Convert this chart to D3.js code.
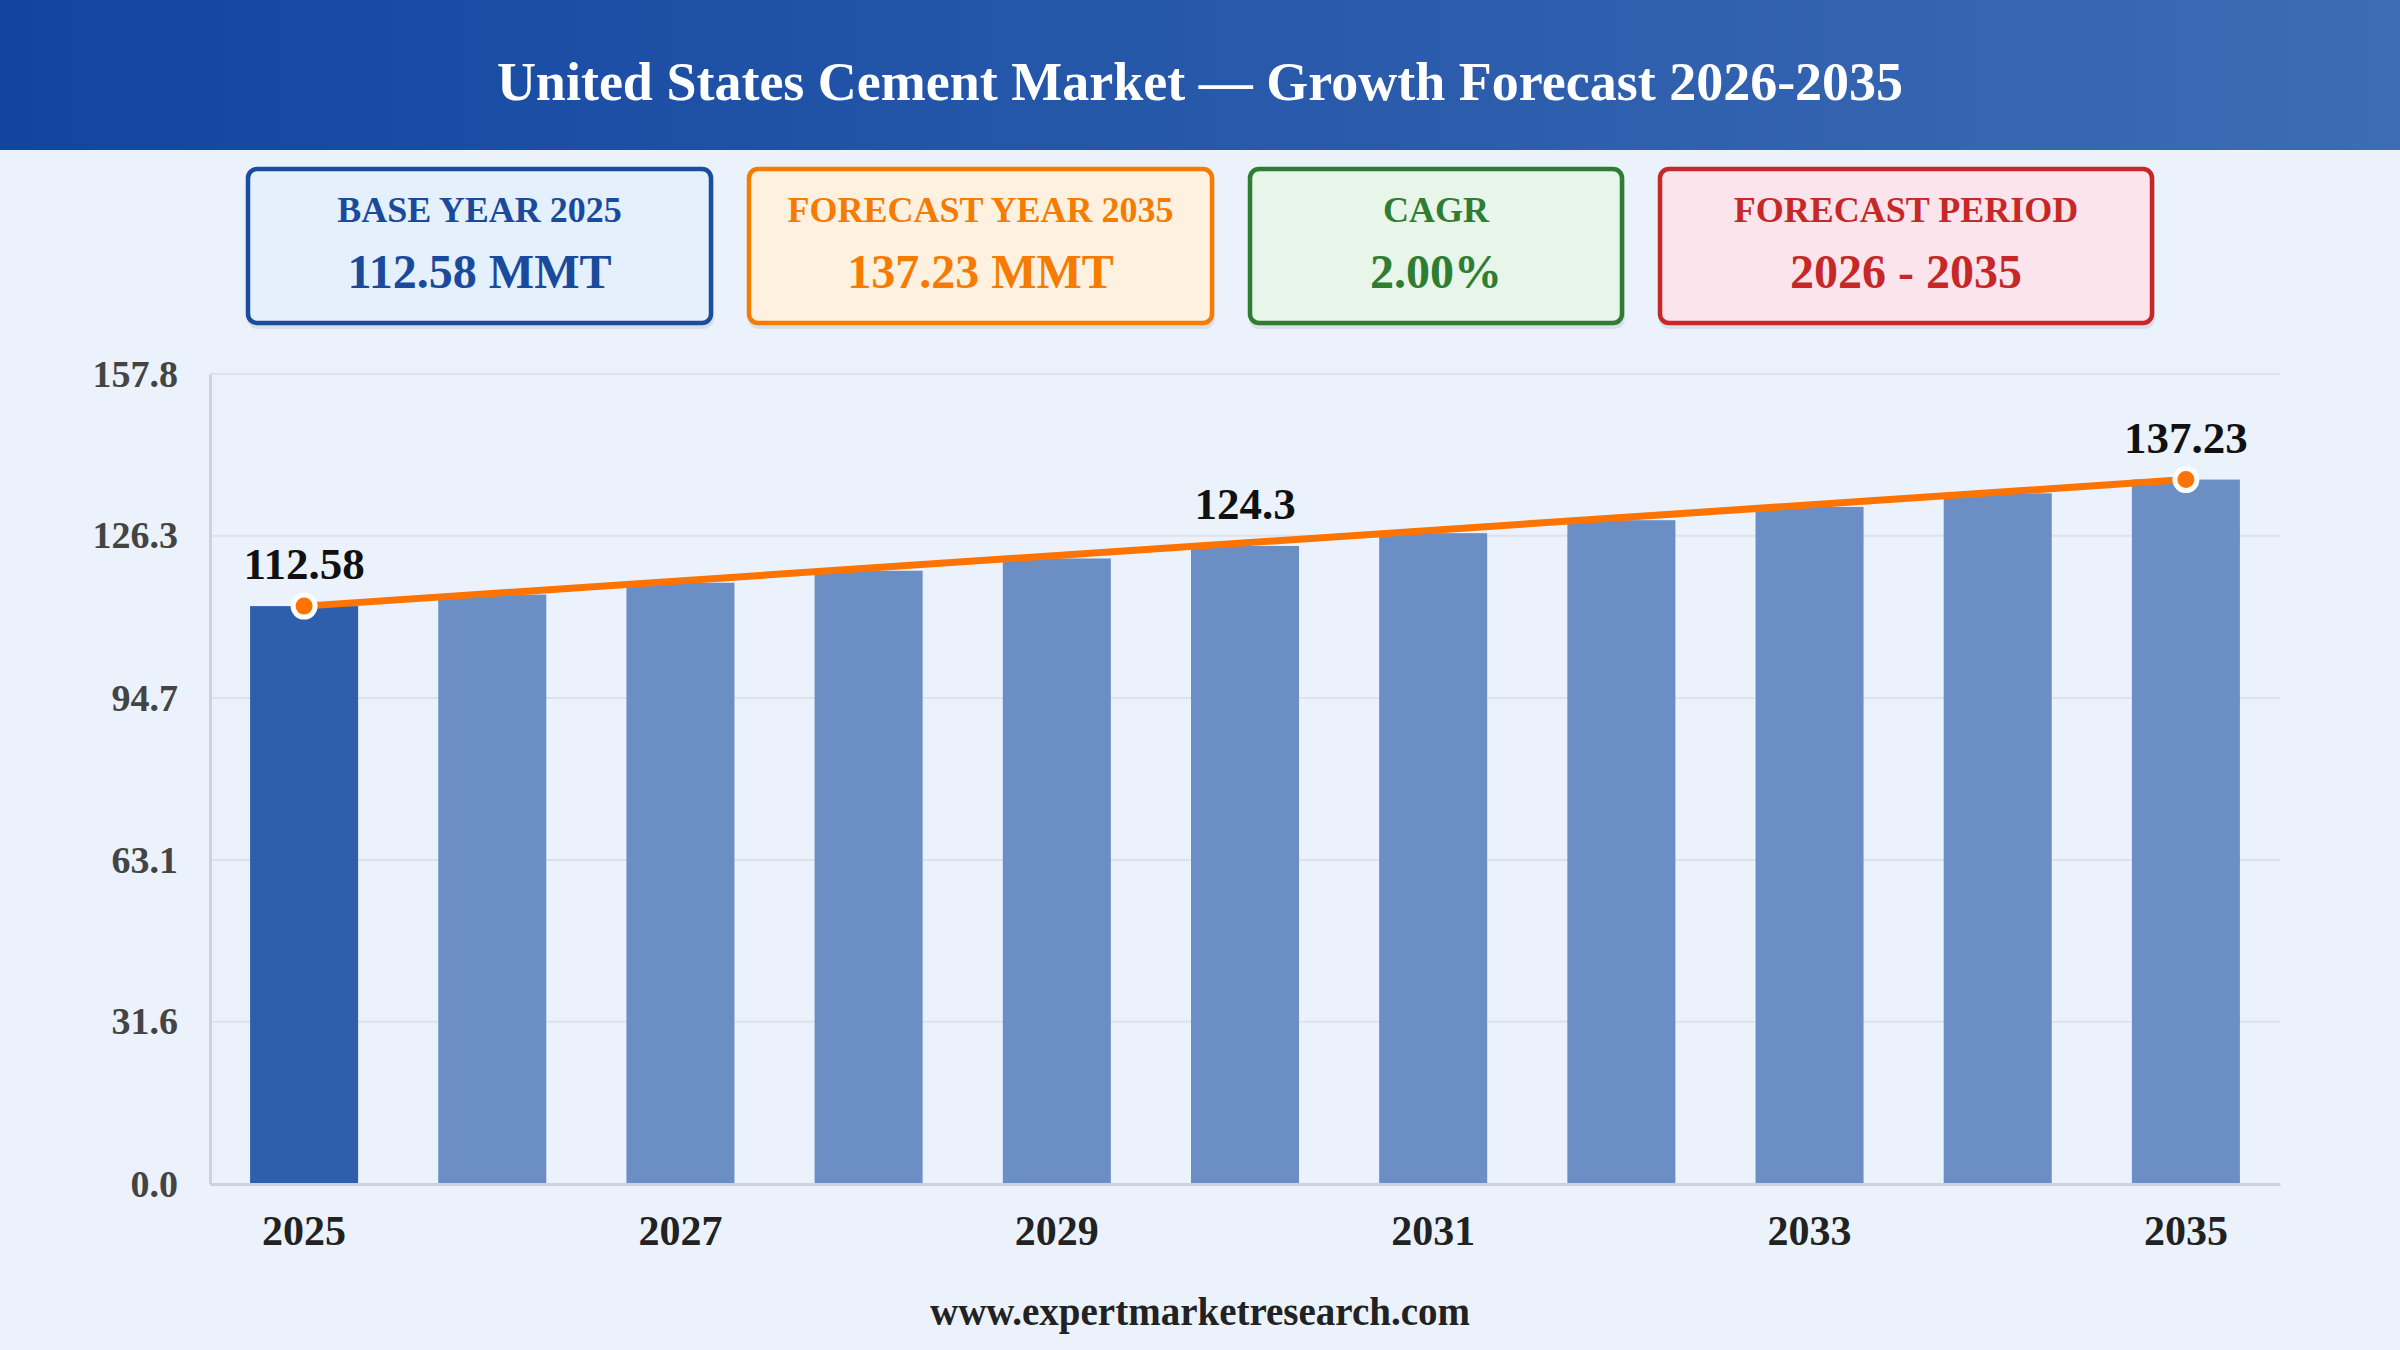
<!DOCTYPE html>
<html>
<head>
<meta charset="utf-8">
<script src="https://cdn.jsdelivr.net/npm/d3@7"></script>
<style>
  html, body { margin: 0; padding: 0; background: #ebf2fb; }
  svg { display: block; }
  text { font-family: "Liberation Serif", "Times New Roman", serif; font-weight: bold; }
</style>
</head>
<body>
<svg id="chart" width="2400" height="1350"></svg>
<script>
const years = [2025, 2026, 2027, 2028, 2029, 2030, 2031, 2032, 2033, 2034, 2035];
const volumes = [112.58, 114.83, 117.13, 119.47, 121.86, 124.30, 126.79, 129.32, 131.91, 134.55, 137.23];
const yTicks = [0, 31.6, 63.1, 94.7, 126.3, 157.8];
const xTickYears = [2025, 2027, 2029, 2031, 2033, 2035];
const labelYears = [2025, 2030, 2035];
const dotYears = [2025, 2035];

const cardTitles = ["BASE YEAR 2025", "FORECAST YEAR 2035", "CAGR", "FORECAST PERIOD"];
const cardValues = ["112.58 MMT", "137.23 MMT", "2.00%", "2026 - 2035"];

const title = "United States Cement Market \u2014 Growth Forecast 2026-2035";
const footer = "www.expertmarketresearch.com";

// card look
const cardStyles = [
    { border: "#1a4d9e", fill: "#e4f0fc", text: "#1a4a9c", width: 467 },
    { border: "#f57c00", fill: "#fff1df", text: "#f57c00", width: 467 },
    { border: "#2e7d32", fill: "#e8f5e9", text: "#2e7d32", width: 376 },
    { border: "#c62828", fill: "#fce4ec", text: "#c62828", width: 496 }
];

const W = 2400, H = 1350;
const svg = d3.select("#chart");

// background
svg.append("rect").attr("width", W).attr("height", H).attr("fill", "#ebf2fb");

// header
const defs = svg.append("defs");
const grad = defs.append("linearGradient").attr("id", "hdr")
    .attr("x1", "0%").attr("x2", "100%").attr("y1", "0%").attr("y2", "0%");
grad.append("stop").attr("offset", "0%").attr("stop-color", "#1145a0");
grad.append("stop").attr("offset", "100%").attr("stop-color", "#3d6cb4");

svg.append("rect").attr("width", W).attr("height", 150).attr("fill", "url(#hdr)");
svg.append("text")
    .attr("x", W / 2).attr("y", 100)
    .attr("text-anchor", "middle")
    .attr("font-size", 54)
    .attr("fill", "#ffffff")
    .text(title);

// cards
const gap = 34;
const totalW = d3.sum(cardStyles, d => d.width) + gap * (cardStyles.length - 1);
let cardX = (W - totalW) / 2;
const cardY = 167, cardH = 158;

cardTitles.forEach((t, i) => {
    const s = cardStyles[i];
    const g = svg.append("g").attr("transform", `translate(${cardX},${cardY})`);
    g.append("rect")
        .attr("x", 1).attr("y", 4)
        .attr("width", s.width).attr("height", cardH)
        .attr("rx", 10)
        .attr("fill", "rgba(0,0,0,0.08)");
    g.append("rect")
        .attr("x", 2).attr("y", 2)
        .attr("width", s.width - 4).attr("height", cardH - 4)
        .attr("rx", 9)
        .attr("fill", s.fill)
        .attr("stroke", s.border)
        .attr("stroke-width", 4.5);
    g.append("text")
        .attr("x", s.width / 2).attr("y", 55)
        .attr("text-anchor", "middle")
        .attr("font-size", 36)
        .attr("fill", s.text)
        .text(t);
    g.append("text")
        .attr("x", s.width / 2).attr("y", 121)
        .attr("text-anchor", "middle")
        .attr("font-size", 48)
        .attr("fill", s.text)
        .text(cardValues[i]);
    cardX += s.width + gap;
});

// chart area
const plotLeft = 210, plotRight = 2280, plotTop = 374, plotBottom = 1184;

const x = d3.scaleBand()
    .domain(years)
    .range([plotLeft, plotRight])
    .paddingInner(0.426)
    .paddingOuter(0.213);

const y = d3.scaleLinear()
    .domain([0, 157.8])
    .range([plotBottom, plotTop]);

// grid
svg.append("g")
    .selectAll("line")
    .data(yTicks.filter(d => d > 0))
    .join("line")
    .attr("x1", plotLeft).attr("x2", plotRight)
    .attr("y1", d => y(d)).attr("y2", d => y(d))
    .attr("stroke", "#dde2ea")
    .attr("stroke-width", 2);

// bars
svg.append("g")
    .selectAll("rect")
    .data(years)
    .join("rect")
    .attr("x", d => x(d))
    .attr("y", (d, i) => y(volumes[i]))
    .attr("width", x.bandwidth())
    .attr("height", (d, i) => plotBottom - y(volumes[i]))
    .attr("fill", (d, i) => i === 0 ? "#2e5fad" : "#6b8fc4");

// axes
const yAxis = svg.append("g")
    .attr("transform", `translate(${plotLeft},0)`)
    .call(d3.axisLeft(y).tickValues(yTicks).tickFormat(d3.format(".1f")).tickSize(0).tickPadding(32));
yAxis.select(".domain").attr("stroke", "#cfd3d9").attr("stroke-width", 3);
yAxis.selectAll("text")
    .attr("font-size", 38)
    .attr("fill", "#444444")
    .style("font-family", '"Liberation Serif", "Times New Roman", serif')
    .style("font-weight", "bold");

const xAxis = svg.append("g")
    .attr("transform", `translate(0,${plotBottom})`)
    .call(d3.axisBottom(x).tickValues(xTickYears).tickSize(0).tickPadding(31));
xAxis.select(".domain").attr("stroke", "#cfd3d9").attr("stroke-width", 3);
xAxis.selectAll("text")
    .attr("font-size", 42)
    .attr("fill", "#222222")
    .style("font-family", '"Liberation Serif", "Times New Roman", serif')
    .style("font-weight", "bold");

// trend line from first to last year
const midX = d => x(d) + x.bandwidth() / 2;
const valOf = d => volumes[years.indexOf(d)];

svg.append("path")
    .datum(dotYears)
    .attr("d", d3.line().x(d => midX(d)).y(d => y(valOf(d))))
    .attr("fill", "none")
    .attr("stroke", "#ff7300")
    .attr("stroke-width", 7)
    .attr("stroke-linecap", "round");

svg.append("g")
    .selectAll("circle")
    .data(dotYears)
    .join("circle")
    .attr("cx", d => midX(d))
    .attr("cy", d => y(valOf(d)))
    .attr("r", 11)
    .attr("fill", "#ff7300")
    .attr("stroke", "#ffffff")
    .attr("stroke-width", 5);

// value labels
svg.append("g")
    .selectAll("text")
    .data(labelYears)
    .join("text")
    .attr("x", d => midX(d))
    .attr("y", d => y(valOf(d)) - 27)
    .attr("text-anchor", "middle")
    .attr("font-size", 45)
    .attr("fill", "#111111")
    .text(d => String(valOf(d)));

// footer
svg.append("text")
    .attr("x", W / 2).attr("y", 1325)
    .attr("text-anchor", "middle")
    .attr("font-size", 39)
    .attr("fill", "#222222")
    .text(footer);
</script>
</body>
</html>
